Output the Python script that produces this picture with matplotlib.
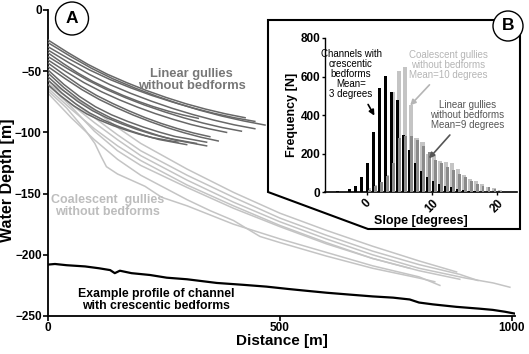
import matplotlib
matplotlib.use("Agg")
import matplotlib.pyplot as plt
from matplotlib.patches import Polygon, Ellipse
import numpy as np

plt.rcParams['font.family'] = ['Liberation Sans', 'DejaVu Sans']

# ---------------- data: panel A ----------------
# Linear gullies without bedforms: end distance and depths at 11 evenly spaced stations
linear_ends = [425, 468, 446, 446, 324, 417, 385, 349, 367, 342, 342, 320, 299, 280]
linear_depths = [
    [-24.5, -34.7, -44.2, -52.4, -59.4, -65.8, -71.5, -76.6, -81.0, -84.8, -88.0],
    [-26.7, -37.5, -47.6, -56.3, -63.7, -70.4, -76.5, -81.9, -86.6, -90.6, -94.0],
    [-30.0, -39.8, -48.9, -56.8, -63.6, -69.7, -75.1, -80.0, -84.3, -88.0, -91.0],
    [-32.7, -43.0, -52.6, -61.0, -68.1, -74.5, -80.3, -85.4, -89.9, -93.8, -97.0],
    [-35.0, -43.6, -51.6, -58.5, -64.4, -69.8, -74.6, -78.9, -82.6, -85.8, -88.5],
    [-38.0, -47.8, -56.9, -64.8, -71.6, -77.7, -83.1, -88.0, -92.3, -96.0, -99.0],
    [-40.8, -50.3, -59.2, -66.8, -73.4, -79.3, -84.6, -89.3, -93.5, -97.0, -100.0],
    [-43.3, -52.9, -62.0, -69.8, -76.4, -82.4, -87.9, -92.7, -96.9, -100.5, -103.5],
    [-46.3, -56.0, -65.1, -73.0, -79.7, -85.8, -91.2, -96.1, -100.3, -104.0, -107.0],
    [-49.0, -60.8, -70.8, -79.1, -85.6, -90.9, -95.6, -99.7, -103.3, -105.6, -108.0],
    [-51.5, -63.4, -73.5, -81.8, -88.4, -93.7, -98.5, -102.7, -106.2, -108.6, -111.0],
    [-54.5, -65.4, -74.7, -82.3, -88.3, -93.2, -97.6, -101.4, -104.6, -106.8, -109.0],
    [-57.2, -67.8, -76.7, -84.1, -89.9, -94.7, -98.9, -102.6, -105.8, -107.9, -110.0],
    [-61.0, -70.4, -78.4, -85.0, -90.1, -94.4, -98.1, -101.4, -104.2, -106.1, -108.0],
]

# Coalescent gullies without bedforms: (distances, depths)
coalescent = [
    ([0, 50, 100, 150, 200, 300, 400, 500, 600, 700, 800, 881],
     [-58, -70, -82, -96, -109, -130, -149, -166, -180, -193, -205, -214]),
    ([0, 50, 100, 150, 200, 300, 400, 500, 600, 700, 800, 888, 927],
     [-60, -74, -88, -102, -115, -135, -153, -170, -184, -197, -208, -216, -221]),
    ([0, 50, 100, 150, 200, 300, 400, 500, 600, 700, 800, 900, 960, 996],
     [-62, -77, -92, -106, -119, -139, -157, -173, -187, -200, -211, -219, -223, -226.5]),
    ([0, 50, 100, 150, 200, 300, 400, 500, 600, 700, 800, 888],
     [-64, -81, -97, -111, -123, -143, -160, -176, -190, -203, -213, -220]),
    ([0, 40, 80, 101, 115, 126, 150, 209, 245, 300, 400, 500, 600, 700, 800, 845],
     [-66, -80, -98, -109, -120, -128, -134, -144, -153, -160, -175, -187, -198, -209, -218, -225]),
    ([0, 50, 100, 150, 200, 250, 300, 350, 400, 457, 500, 600, 700, 800, 834],
     [-68, -88, -106, -122, -135, -145, -155, -164, -172, -185, -190, -201, -211, -219, -222]),
    ([0, 50, 100, 150, 200, 300, 400, 500, 600, 700, 780],
     [-61, -79, -99, -115, -127, -145, -162, -177, -191, -203, -211]),
]

# Example channel profile with crescentic bedforms
profile_dist = [0, 15, 40, 80, 110, 134, 144, 155, 180, 220, 256, 300, 364, 420,
                471, 520, 560, 601, 650, 700, 744, 780, 800, 830, 880, 930, 959, 985, 1006]
profile_depth = [-208, -207.5, -208.5, -209.5, -211, -212.5, -215, -213, -215, -216.5, -218.7,
                 -220, -223, -224.5, -226, -228, -229.5, -231, -232.5, -234, -235, -236.5,
                 -239, -240.5, -242.5, -244, -245, -246.5, -248]

# ---------------- data: panel B (histogram) ----------------
slope_bins = [-4.4, -3.48, -2.56, -1.64, -0.72, 0.2, 1.12, 2.04, 2.96, 3.88, 4.8, 5.72, 6.64,
              7.56, 8.48, 9.4, 10.32, 11.24, 12.16, 13.08, 14.0, 14.92, 15.84, 16.76, 17.68,
              18.6, 19.52, 20.44, 21.36]
freq_crescentic = [9, 4, 17, 33, 81, 154, 315, 540, 604, 520, 480, 295, 220, 150, 110, 80, 60,
                   45, 35, 25, 18, 12, 8, 5, 3, 2, 1, 1, 0]
freq_coalescent = [0, 0, 0, 0, 0, 20, 40, 55, 90, 520, 630, 650, 455, 280, 260, 200, 190, 160,
                   155, 150, 120, 90, 70, 60, 45, 30, 20, 10, 3]
freq_linear = [0, 0, 0, 0, 0, 10, 35, 55, 85, 150, 280, 290, 290, 270, 240, 210, 170, 150, 130,
               115, 95, 80, 60, 45, 35, 25, 15, 8, 3]

DARK = '#686868'
LIGHT = '#c4c4c4'
MID = '#8a8a8a'

W, H = 529, 354
fig = plt.figure(figsize=(W / 100, H / 100), dpi=100)

def fx(px):
    return px / W

def fy(py):
    return 1 - py / H

# ---------------- panel A ----------------
ax = fig.add_axes([fx(48), fy(316), fx(515) - fx(48), fy(10) - fy(316)])
ax.set_xlim(0, 1007)
ax.set_ylim(-250, 0)
for s in ['top', 'right']:
    ax.spines[s].set_visible(False)
for s in ['left', 'bottom']:
    ax.spines[s].set_linewidth(1.3)
ax.set_xticks([0, 500, 1000])
ax.set_yticks([-250, -200, -150, -100, -50, 0])
ax.tick_params(direction='out', length=3.5, width=1.2, labelsize=8.5, pad=1)
for lab in ax.get_xticklabels() + ax.get_yticklabels():
    lab.set_fontweight('bold')
ax.set_xlabel('Distance [m]', fontsize=11, fontweight='bold', labelpad=0)
fig.text(fx(8), fy(180), 'Water Depth [m]', rotation=90, fontsize=11.5, fontweight='bold',
         ha='center', va='center')

for d, c in coalescent:
    ax.plot(d, c, color=LIGHT, lw=1.1, zorder=2)
for end, dep in zip(linear_ends, linear_depths):
    xs = [end * i / 10 for i in range(11)]
    ax.plot(xs, dep, color=DARK, lw=1.1, zorder=3)
ax.plot(profile_dist, profile_depth, color='black', lw=1.6, zorder=4)

ax.text(310, -57, 'Linear gullies\nwithout bedforms', color='#777777', fontsize=9.3,
        fontweight='bold', ha='center', va='center', linespacing=1.0)
ax.text(128, -160.5, 'Coalescent  gullies\nwithout bedforms', color='#bdbdbd', fontsize=9,
        fontweight='bold', ha='center', va='center', linespacing=1.0)
ax.text(233, -237, 'Example profile of channel\nwith crescentic bedforms', color='black', fontsize=8.8,
        fontweight='bold', ha='center', va='center', linespacing=1.0)

# circle label A
ca = Ellipse((fx(72), fy(18.5)), 33 / W, 33 / H, transform=fig.transFigure, facecolor='white',
             edgecolor='black', lw=1.0, zorder=10)
fig.patches.append(ca)
fig.text(fx(72), fy(18.5), 'A', fontsize=12.5, fontweight='bold', ha='center', va='center', zorder=11)

# ---------------- inset frame ----------------
frame = Polygon([(fx(268), fy(20)), (fx(520), fy(20)), (fx(520), fy(229)),
                 (fx(368), fy(229)), (fx(268), fy(192))], closed=True,
                transform=fig.transFigure, facecolor='white', edgecolor='black', lw=1.5, zorder=5)
fig.patches.append(frame)

# ---------------- panel B ----------------
bx = fig.add_axes([fx(325), fy(192.3), fx(517) - fx(325), fy(38) - fy(192.3)], zorder=6)
bx.patch.set_alpha(0)
bx.set_xlim(-6.4, 23.1)
bx.set_ylim(0, 800)
for s in ['top', 'right']:
    bx.spines[s].set_visible(False)
bx.spines['left'].set_linewidth(1.0)
bx.spines['bottom'].set_linewidth(1.2)
centers = np.array(slope_bins, dtype=float)
bx.bar(centers + 0.1, freq_coalescent, width=0.62, color=LIGHT, zorder=1)
bx.bar(centers - 0.12, freq_crescentic, width=0.45, color='black', zorder=2)
bx.bar(centers + 0.2, freq_linear, width=0.45, color=MID, zorder=3)
bx.set_xticks([0, 10, 20])
bx.set_yticks([0, 200, 400, 600, 800])
bx.tick_params(direction='out', length=2.5, width=1, labelsize=8.5, pad=1)
for lab in bx.get_xticklabels():
    lab.set_rotation(45)
    lab.set_fontweight('bold')
for lab in bx.get_yticklabels():
    lab.set_fontweight('bold')
bx.set_xlabel('Slope [degrees]', fontsize=9, fontweight='bold', labelpad=0)
bx.set_ylabel('Frequency [N]', fontsize=9, fontweight='bold', labelpad=2)

bx.annotate('Channels with\ncrescentic\nbedforms\nMean=\n3 degrees', xy=(1.4, 385), xytext=(-2.4, 612),
            fontsize=7, ha='center', va='center', linespacing=1.0,
            arrowprops=dict(arrowstyle='-|>', color='black', lw=1.2, mutation_scale=8))
bx.annotate('Coalescent gullies\nwithout bedforms\nMean=10 degrees', xy=(6.4, 440), xytext=(12.5, 660),
            fontsize=7, color='#b5b5b5', ha='center', va='center', linespacing=1.0,
            arrowprops=dict(arrowstyle='-|>', color='#b5b5b5', lw=1.2, mutation_scale=8))
bx.annotate('Linear gullies\nwithout bedforms\nMean=9 degrees', xy=(9.3, 165), xytext=(15.5, 400),
            fontsize=7, color='#555555', ha='center', va='center', linespacing=1.0,
            arrowprops=dict(arrowstyle='-|>', color='#555555', lw=1.2, mutation_scale=8))

cb = Ellipse((fx(508), fy(26)), 30 / W, 30 / H, transform=fig.transFigure, facecolor='white',
             edgecolor='black', lw=1.0, zorder=10)
fig.patches.append(cb)
fig.text(fx(508), fy(26), 'B', fontsize=12.5, fontweight='bold', ha='center', va='center', zorder=11)

fig.savefig('out.png', dpi=100)
